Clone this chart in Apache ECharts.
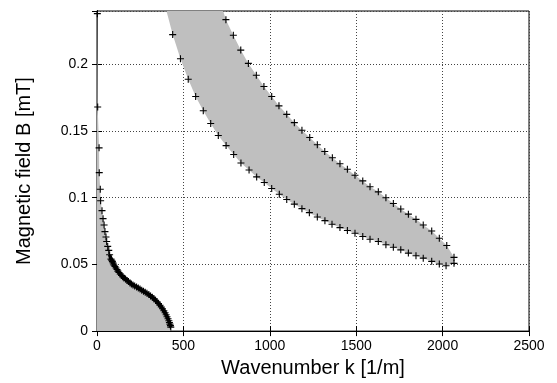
<!DOCTYPE html>
<html>
<head>
<meta charset="utf-8">
<script src="https://cdn.jsdelivr.net/npm/echarts@6/dist/echarts.min.js"></script>
<style>html,body{margin:0;padding:0;background:#fff}#c{width:557px;height:383px}</style>
</head>
<body>
<div id="c"></div>
<script>
// ---- data ----
const xTicks = [0, 500, 1000, 1500, 2000, 2500];
const yTickLabels = ['0', '0.05', '0.1', '0.15', '0.2'];

// left branch (k, B)
const leftK = [2, 4, 12, 13, 19, 21, 29, 35, 41, 46, 52, 56, 62, 68, 73, 81,
  85, 89, 92, 95, 99, 104, 110, 116, 121, 127, 134, 142, 149, 156, 165, 174, 182, 191, 199, 208,
  218, 229, 239, 249, 259, 269, 279, 289, 300, 310, 320, 330, 339, 347, 356, 365, 372, 379,
  387, 394, 400, 405, 411, 416, 419, 422, 425, 427];
const leftB = [0.238, 0.168, 0.1374, 0.1188, 0.1064, 0.0977, 0.0903, 0.0843, 0.0796, 0.0746, 0.0706, 0.0672, 0.0635, 0.0605, 0.0572, 0.0540,
  0.0531, 0.0523, 0.0513, 0.0503, 0.0494, 0.0484, 0.0473, 0.0462, 0.0450, 0.0439, 0.0428, 0.0417, 0.0408, 0.0399, 0.0390, 0.0380, 0.0371, 0.0361, 0.0354, 0.0346,
  0.0339, 0.0331, 0.0323, 0.0315, 0.0307, 0.0299, 0.0291, 0.0283, 0.0274, 0.0264, 0.0253, 0.0242, 0.0231, 0.0220, 0.0207, 0.0194, 0.0181, 0.0168,
  0.0153, 0.0138, 0.0123, 0.0108, 0.0093, 0.0078, 0.0065, 0.0052, 0.0041, 0.0030];
// index from which the left-branch markers overlap into a solid band
const denseFrom = 14;

// band: lower (inner) curve
const lowK = [438, 483, 528, 571, 615, 658, 702, 747, 791, 833, 880, 924, 968, 1011, 1055, 1098, 1142, 1186, 1229, 1275, 1319, 1360,
  1406, 1449, 1493, 1538, 1580, 1628, 1672, 1715, 1758, 1802, 1846, 1888, 1937, 1981, 2020];
const lowB = [0.2223, 0.2042, 0.1888, 0.1759, 0.1652, 0.1556, 0.1466, 0.1391, 0.1324, 0.1260, 0.1208, 0.1156, 0.1114, 0.1069, 0.1026, 0.0987, 0.0952, 0.0918, 0.0888, 0.0855, 0.0828, 0.0801,
  0.0776, 0.0754, 0.0734, 0.0709, 0.0689, 0.0672, 0.0647, 0.0629, 0.0609, 0.0585, 0.0565, 0.0547, 0.0523, 0.0503, 0.0490];

// band: upper (outer) curve
const upK = [746, 789, 832, 876, 922, 966, 1011, 1053, 1098, 1142, 1186, 1231, 1275, 1318, 1362, 1406, 1449, 1493, 1538, 1580,
  1628, 1672, 1715, 1758, 1802, 1846, 1888, 1937, 1981, 2024, 2066, 2066];
const upB = [0.2335, 0.2218, 0.2107, 0.2007, 0.1918, 0.1834, 0.1759, 0.1689, 0.1625, 0.1563, 0.1506, 0.1451, 0.1397, 0.1347, 0.1300, 0.1255, 0.1213, 0.1168, 0.1126, 0.1082,
  0.1044, 0.1000, 0.0957, 0.0915, 0.0877, 0.0838, 0.0796, 0.0751, 0.0696, 0.0642, 0.0553, 0.0508];

// where the shaded band leaves the top of the axes
const bandTopLowK = 402;
const bandTopUpK = 730;
const yMax = 0.24;

// ---- build ----
const zip = (a, b) => a.map((v, i) => [v, b[i]]);
const leftPts = zip(leftK, leftB);
const lowPts = zip(lowK, lowB);
const upPts = zip(upK, upB);

const leftPoly = [[0, 0], [0, yMax]].concat(leftPts).concat([[leftK[leftK.length - 1], 0]]);
const bandPoly = [[bandTopLowK, yMax]].concat(lowPts).concat(upPts.slice().reverse()).concat([[bandTopUpK, yMax]]);

function polySeries(poly) {
  return {
    type: 'custom',
    coordinateSystem: 'cartesian2d',
    silent: true,
    data: [[0, 0]],
    renderItem: function (params, api) {
      return {
        type: 'polygon',
        shape: { points: poly.map(p => api.coord(p)) },
        style: { fill: '#bfbfbf', stroke: null }
      };
    },
    z: 1
  };
}

const cross = 'path://M5,0L5,10M0,5L10,5';
function markSeries(pts) {
  return {
    type: 'scatter',
    data: pts,
    symbol: cross,
    symbolSize: 7,
    itemStyle: { color: 'rgba(0,0,0,0)', borderColor: '#000', borderWidth: 1.1, opacity: 1 },
    silent: true,
    z: 3
  };
}

const font = 'Liberation Sans, Arial, Helvetica, sans-serif';
const chart = echarts.init(document.getElementById('c'), null, { renderer: 'canvas' });
chart.setOption({
  animation: false,
  backgroundColor: '#fff',
  grid: { left: 97, right: 28, top: 11, bottom: 49.5, show: true, borderColor: '#000', borderWidth: 1, backgroundColor: 'transparent' },
  xAxis: [{
    type: 'value', min: xTicks[0], max: xTicks[xTicks.length - 1], interval: 500,
    name: 'Wavenumber k [1/m]', nameLocation: 'middle', nameGap: 25,
    nameTextStyle: { fontFamily: font, fontSize: 20, color: '#000' },
    axisLine: { lineStyle: { color: '#000', width: 1 } },
    axisTick: { inside: true, length: 5, lineStyle: { color: '#000' } },
    axisLabel: { fontFamily: font, fontSize: 14, color: '#000', margin: 8, formatter: v => String(v) },
    splitLine: { show: true, lineStyle: { color: '#444', type: [1, 2], width: 1 } }
  }, {
    type: 'value', position: 'top', min: xTicks[0], max: xTicks[xTicks.length - 1], interval: 500,
    axisLine: { show: true, lineStyle: { color: '#000' } },
    axisTick: { inside: true, length: 5, lineStyle: { color: '#000' } },
    axisLabel: { show: false }, splitLine: { show: false }
  }],
  yAxis: [{
    type: 'value', min: 0, max: yMax, interval: 0.05,
    name: 'Magnetic field B [mT]', nameLocation: 'middle', nameGap: 63,
    nameTextStyle: { fontFamily: font, fontSize: 20, color: '#000' },
    axisLine: { show: true, lineStyle: { color: '#000', width: 1 } },
    axisTick: { inside: true, length: 5, lineStyle: { color: '#000' } },
    axisLabel: {
      fontFamily: font, fontSize: 14, color: '#000', margin: 9, showMaxLabel: false,
      formatter: function (v) {
        const i = Math.round(v / 0.05);
        return Math.abs(v - i * 0.05) < 1e-9 && yTickLabels[i] !== undefined ? yTickLabels[i] : '';
      }
    },
    splitLine: { show: true, lineStyle: { color: '#444', type: [1, 2], width: 1 } }
  }, {
    type: 'value', position: 'right', min: 0, max: yMax, interval: 0.05,
    axisLine: { show: true, lineStyle: { color: '#000' } },
    axisTick: { inside: true, length: 5, lineStyle: { color: '#000' } },
    axisLabel: { show: false }, splitLine: { show: false }
  }],
  series: [
    polySeries(leftPoly),
    polySeries(bandPoly),
    {
      type: 'line',
      data: leftPts.slice(denseFrom),
      showSymbol: false,
      smooth: 0.3,
      lineStyle: { color: '#000', width: 3.5 },
      silent: true,
      z: 2
    },
    markSeries(leftPts),
    markSeries(lowPts),
    markSeries(upPts)
  ]
});
</script>
</body>
</html>
